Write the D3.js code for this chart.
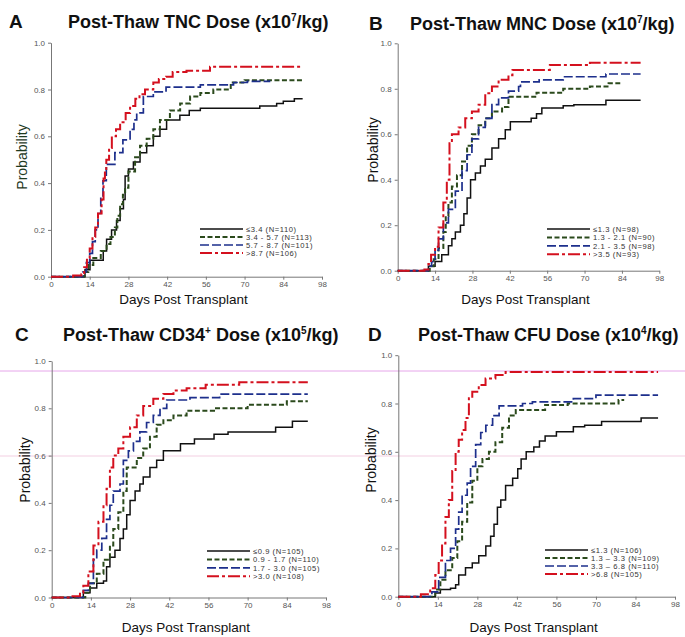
<!DOCTYPE html>
<meta charset="UTF-8">
<script src="https://d3js.org/d3.v7.min.js"></script>
<style>
body { margin: 0; background: #fff; }
svg text { font-family: "Liberation Sans", Arial, sans-serif; }
</style>
<div id="my_dataviz"></div>
<script>

// x axis ticks (days) and y axis ticks (probability)
var dayTicks = [0, 14, 28, 42, 56, 70, 84, 98]
var probTicks = [0, 0.2, 0.4, 0.6, 0.8, 1.0]

// ---- A : TNC dose, steps as [day, probability]
var tncLow  = [[0,0],[12.3,0.03],[14.1,0.07],[18.9,0.11],[20.1,0.16],[21.9,0.2],[23.7,0.24],[25,0.29],[26.2,0.33],[26.8,0.43],[28,0.46],[29.8,0.49],[32.2,0.53],[34.6,0.56],[37,0.6],[39.4,0.63],[41.8,0.67],[46.6,0.69],[50,0.71],[54,0.72],[75.5,0.73],[81.6,0.74],[84,0.75],[88,0.76],[91,0.76]]
var tncMid1 = [[0,0],[12,0.02],[13.5,0.05],[15.3,0.08],[18,0.11],[20.1,0.14],[21.5,0.17],[23.1,0.21],[24,0.26],[25,0.31],[26,0.35],[26.8,0.38],[28,0.45],[30.4,0.51],[32.2,0.56],[34.6,0.59],[37,0.63],[39.4,0.67],[43,0.71],[46.7,0.74],[50.3,0.77],[54,0.785],[58.7,0.8],[65,0.83],[70,0.84],[91,0.84]]
var tncMid2 = [[0,0],[11.5,0.02],[12.8,0.06],[14,0.1],[15,0.15],[16,0.2],[17,0.27],[18,0.34],[18.8,0.41],[20,0.48],[23.1,0.53],[26,0.585],[28.6,0.63],[30,0.67],[31,0.7],[33.4,0.77],[37,0.79],[41.6,0.81],[54,0.82],[66,0.83],[71,0.835],[79,0.84]]
var tncHigh = [[0,0],[8,0.005],[11,0.01],[12,0.04],[13,0.08],[14,0.12],[15,0.17],[16,0.21],[17,0.27],[18.3,0.33],[19,0.42],[19.5,0.46],[20,0.5],[21,0.55],[22,0.6],[23.5,0.63],[25,0.66],[27,0.7],[28.6,0.73],[30.5,0.76],[32,0.78],[34,0.8],[37,0.83],[39,0.845],[41.6,0.855],[44,0.875],[49,0.88],[57.5,0.897],[91,0.897]]
var tncLegend = ["\u22643.4 (N=110)", "3.4 - 5.7 (N=113)", "5.7 - 8.7 (N=101)", ">8.7 (N=106)"]

// ---- B : MNC dose
var mncLow  = [[0,0],[11.5,0.02],[14,0.04],[16.5,0.07],[19,0.11],[20.3,0.14],[21.6,0.17],[23.5,0.2],[24.8,0.25],[26,0.32],[27.3,0.4],[29.1,0.43],[31,0.46],[32.8,0.49],[35.3,0.54],[37.8,0.58],[40.3,0.62],[42.2,0.655],[50,0.67],[52,0.69],[54,0.715],[62,0.725],[66,0.73],[78,0.75],[91,0.75]]
var mncMid1 = [[0,0],[12,0.02],[13.5,0.05],[15.3,0.1],[17.1,0.17],[18,0.24],[19,0.3],[20.3,0.37],[22.2,0.42],[24.1,0.48],[26,0.55],[27.8,0.6],[30.3,0.64],[32.8,0.67],[35.3,0.7],[39.1,0.72],[41.5,0.765],[52,0.783],[62,0.8],[72,0.81],[79,0.824],[83,0.84]]
var mncMid2 = [[0,0],[11.5,0.02],[12.7,0.04],[14,0.09],[15.3,0.14],[17.1,0.21],[19,0.27],[21.6,0.35],[24.1,0.44],[26,0.51],[27.8,0.58],[30.3,0.63],[32.8,0.67],[35.3,0.73],[37.8,0.76],[41.5,0.79],[45.3,0.81],[46,0.83],[53,0.839],[62,0.853],[78,0.865],[91,0.865]]
var mncHigh = [[0,0],[10,0.005],[11.5,0.03],[12.5,0.07],[14,0.105],[15.3,0.19],[17.1,0.3],[18.4,0.4],[19.4,0.56],[20.3,0.6],[22.8,0.63],[25.3,0.67],[27.8,0.7],[30.3,0.73],[32.8,0.78],[35.3,0.81],[37.8,0.84],[41.5,0.86],[43,0.883],[57,0.905],[72,0.915],[91,0.915]]
var mncLegend = ["\u22641.3 (N=98)", "1.3 - 2.1 (N=90)", "2.1 - 3.5 (N=98)", ">3.5 (N=93)"]

// ---- C : CD34+ dose
var cd34Low  = [[0,0],[11.3,0.02],[13.7,0.04],[16.1,0.06],[18.5,0.07],[19.6,0.13],[20.8,0.17],[22.6,0.2],[24.4,0.25],[25.6,0.29],[26.8,0.35],[28,0.41],[29.8,0.45],[31.5,0.48],[32.7,0.51],[35.1,0.55],[37.5,0.58],[39.9,0.62],[46,0.65],[51,0.67],[58,0.69],[63,0.7],[80,0.72],[86,0.745],[91.5,0.745]]
var cd34Mid1 = [[0,0],[12,0.02],[13.7,0.06],[16.1,0.1],[18.5,0.16],[20.8,0.22],[22,0.29],[23.8,0.36],[25.6,0.45],[26.8,0.55],[30.4,0.59],[32.7,0.63],[35.1,0.68],[37.5,0.73],[39.9,0.75],[43.5,0.77],[48.2,0.79],[58,0.8],[70,0.815],[84,0.83],[91.5,0.83]]
var cd34Mid2 = [[0,0],[11.3,0.03],[13.1,0.06],[14.9,0.16],[16.1,0.2],[17.9,0.25],[19.6,0.33],[20.8,0.39],[22,0.45],[24.4,0.48],[25.6,0.58],[27.4,0.62],[29.2,0.66],[31.5,0.7],[33.9,0.74],[36.3,0.77],[38.7,0.8],[41.1,0.835],[49.4,0.845],[60,0.86],[91.5,0.86]]
var cd34High = [[0,0],[7,0.005],[10.1,0.02],[11.3,0.05],[13.1,0.11],[14.9,0.22],[16.7,0.32],[18.5,0.39],[19.6,0.46],[20.8,0.55],[22,0.6],[23.8,0.63],[25.6,0.68],[28,0.72],[30.4,0.77],[32.7,0.81],[36.3,0.84],[39.9,0.86],[43.5,0.875],[48.2,0.885],[55,0.9],[67,0.91],[91.5,0.91]]
var cd34Legend = ["\u22640.9 (N=105)", "0.9 - 1.7 (N=110)", "1.7 - 3.0 (N=105)", ">3.0 (N=108)"]

// ---- D : CFU dose
var cfuLow  = [[0,0],[13.1,0.015],[14.9,0.03],[18.5,0.035],[20.3,0.05],[21.4,0.09],[23.8,0.12],[26.2,0.14],[28.5,0.17],[31,0.21],[32.7,0.25],[33.9,0.3],[35.1,0.37],[36.3,0.4],[38,0.46],[40.5,0.49],[42.3,0.53],[43.5,0.57],[45.3,0.6],[48,0.62],[50,0.645],[52,0.665],[56,0.683],[62,0.704],[66,0.71],[72,0.725],[86,0.74],[92,0.74]]
var cfuMid1 = [[0,0],[13.1,0.03],[14.9,0.07],[16.7,0.11],[19.1,0.16],[20.9,0.23],[22.6,0.31],[24.4,0.39],[26.2,0.48],[28,0.54],[29.8,0.57],[32.1,0.6],[34.4,0.64],[36.8,0.7],[39.2,0.75],[41.6,0.773],[52,0.794],[60,0.8],[78,0.815],[80,0.815]]
var cfuMid2 = [[0,0],[11.9,0.02],[14.3,0.08],[16.7,0.15],[18.5,0.2],[20.3,0.28],[21.4,0.35],[22.6,0.42],[24.4,0.47],[25.6,0.54],[27.4,0.63],[29.2,0.68],[31,0.71],[33.4,0.75],[35.7,0.79],[44,0.8],[47.5,0.807],[62,0.82],[70,0.835],[92,0.835]]
var cfuHigh = [[0,0],[8,0.01],[11.3,0.035],[13.1,0.09],[14.3,0.15],[15.5,0.22],[16.7,0.33],[17.9,0.4],[19.1,0.52],[20.3,0.6],[21.4,0.65],[22.6,0.69],[23.8,0.74],[25,0.822],[26.2,0.849],[28.5,0.877],[30.9,0.904],[34.4,0.918],[38,0.93],[92,0.93]]
var cfuLegend = ["\u22641.3 (N=106)", "1.3 \u2013 3.3 (N=109)", "3.3 \u2013 6.8 (N=110)", ">6.8 (N=105)"]

// line style for the 4 dose groups
var styles = [
    {color: "#111111", width: 1.5, dash: null},
    {color: "#2b4a1c", width: 2,   dash: "5,2.5"},
    {color: "#1d2f8c", width: 1.7, dash: "9,3"},
    {color: "#d4101e", width: 2,   dash: "12,3,3,3"}
]

var width = 685
var height = 637

var svg = d3.select("#my_dataviz")
    .append("svg")
        .attr("width", width)
        .attr("height", height)

// scan artefacts (pink lines) seen across the lower half
svg.append("line").attr("x1", 0).attr("x2", width).attr("y1", 371).attr("y2", 371)
    .attr("stroke", "#e6a6ea").attr("stroke-width", 1)
svg.append("line").attr("x1", 0).attr("x2", width).attr("y1", 456).attr("y2", 456)
    .attr("stroke", "#f3cfe2").attr("stroke-width", 1)

var panels = [
    {letter: "A", title: "Post-Thaw TNC Dose (x10", sup: "7", unit: "/kg)", series: [tncLow, tncMid1, tncMid2, tncHigh], legend: tncLegend,
     x0: 51, x1: 322, y0: 276.7, y1: 42.7, letterX: 9, titleX: 68, titleY: 28, legX: 200, legY: 229, legStep: 8, ylabX: 22, ylabY: 157, xlabY: 303.5},
    {letter: "B", title: "Post-Thaw MNC Dose (x10", sup: "7", unit: "/kg)", series: [mncLow, mncMid1, mncMid2, mncHigh], legend: mncLegend,
     x0: 397.7, x1: 659.3, y0: 270.7, y1: 43.3, letterX: 369, titleX: 410, titleY: 30, legX: 547, legY: 229, legStep: 8.4, ylabX: 373, ylabY: 150, xlabY: 304},
    {letter: "C", title: "Post-Thaw CD34", sup: "+", mid: " Dose (x10", sup2: "5", unit: "/kg)", series: [cd34Low, cd34Mid1, cd34Mid2, cd34High], legend: cd34Legend,
     x0: 51.7, x1: 326, y0: 597.5, y1: 361, letterX: 15, titleX: 63, titleY: 341, legX: 207, legY: 551, legStep: 8.4, ylabX: 25, ylabY: 470, xlabY: 632},
    {letter: "D", title: "Post-Thaw CFU Dose (x10", sup: "4", unit: "/kg)", series: [cfuLow, cfuMid1, cfuMid2, cfuHigh], legend: cfuLegend,
     x0: 398.3, x1: 675, y0: 596.7, y1: 355.2, letterX: 368, titleX: 418, titleY: 341, legX: 545, legY: 550, legStep: 8, ylabX: 371, ylabY: 460, xlabY: 632}
]

panels.forEach(function(p){

    var x = d3.scaleLinear().domain([0, 98]).range([p.x0, p.x1])
    var y = d3.scaleLinear().domain([0, 1]).range([p.y0, p.y1])
    var g = svg.append("g")

    // panel letter + title
    g.append("text")
        .attr("x", p.letterX).attr("y", p.titleY)
        .attr("font-size", 19).attr("font-weight", "bold").attr("fill", "#111")
        .text(p.letter)
    var t = g.append("text")
        .attr("x", p.titleX).attr("y", p.titleY)
        .attr("font-size", 18).attr("font-weight", "bold").attr("fill", "#111")
    t.append("tspan").text(p.title)
    t.append("tspan").attr("dy", -7).attr("font-size", 10).text(p.sup)
    if (p.mid) {
        t.append("tspan").attr("dy", 7).text(p.mid)
        t.append("tspan").attr("dy", -7).attr("font-size", 10).text(p.sup2)
    }
    t.append("tspan").attr("dy", 7).text(p.unit)

    // axes
    var yAxis = g.append("g")
        .attr("transform", "translate(" + p.x0 + ",0)")
        .call(d3.axisLeft(y).tickValues(probTicks).tickFormat(d3.format(".1f")).tickSize(3).tickSizeOuter(0))
    var xAxis = g.append("g")
        .attr("transform", "translate(0," + p.y0 + ")")
        .call(d3.axisBottom(x).tickValues(dayTicks).tickSize(3).tickPadding(2).tickSizeOuter(0))
    ;[yAxis, xAxis].forEach(function(a){
        a.select(".domain").attr("stroke", "#777")
        a.selectAll(".tick line").attr("stroke", "#777")
        a.selectAll(".tick text").attr("fill", "#555").attr("font-size", 8)
            .style("font-family", "'Liberation Sans', Arial, sans-serif")
    })

    // axis titles
    g.append("text")
        .attr("transform", "translate(" + (p.ylabX + 5) + "," + p.ylabY + ") rotate(-90)")
        .attr("text-anchor", "middle").attr("font-size", 14).attr("fill", p.letter == "A" ? "#1f3a1f" : "#111")
        .text("Probability")
    g.append("text")
        .attr("x", (p.x0 + p.x1) / 2 - 3).attr("y", p.xlabY)
        .attr("text-anchor", "middle").attr("font-size", 13.5).attr("fill", "#111")
        .text("Days Post Transplant")

    // step curves
    var line = d3.line()
        .x(function(d){ return x(d[0]) })
        .y(function(d){ return y(d[1]) })
        .curve(d3.curveStepAfter)

    p.series.forEach(function(s, i){
        g.append("path")
            .datum(s)
            .attr("fill", "none")
            .attr("stroke", styles[i].color)
            .attr("stroke-width", styles[i].width)
            .attr("stroke-dasharray", styles[i].dash)
            .attr("d", line)
    })

    // legend
    p.legend.forEach(function(label, i){
        var ly = p.legY + i * p.legStep
        g.append("line")
            .attr("x1", p.legX).attr("x2", p.legX + 43)
            .attr("y1", ly).attr("y2", ly)
            .attr("stroke", styles[i].color)
            .attr("stroke-width", styles[i].width)
            .attr("stroke-dasharray", styles[i].dash)
        g.append("text")
            .attr("x", p.legX + 46).attr("y", ly + 3)
            .attr("font-size", 7.6).attr("letter-spacing", 0.55).attr("fill", "#333")
            .text(label)
    })
})

</script>
